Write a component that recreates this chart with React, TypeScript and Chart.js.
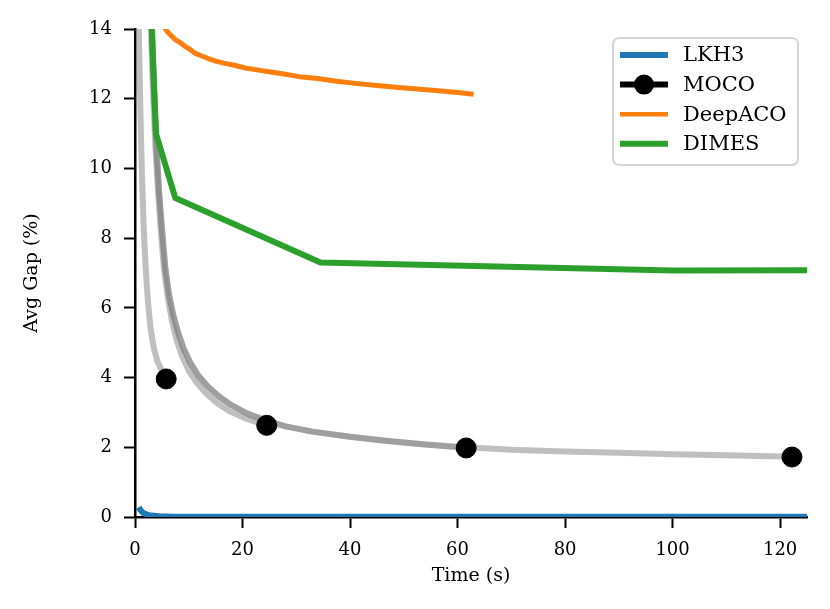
import React, { useEffect, useRef } from 'react';
import { Chart, registerables } from 'chart.js';

Chart.register(...registerables);

// series (time in s, gap in %)
const lkh3Time = [0.7, 1.0, 1.5, 2.2, 3.0, 4.5, 7, 20, 60, 125];
const lkh3Gap = [0.28, 0.2, 0.12, 0.07, 0.04, 0.02, 0.01, 0.01, 0.01, 0.01];

const mocoTime = [5.8, 24.5, 61.6, 122.2];
const mocoGap = [3.96, 2.63, 1.98, 1.72];

const deepacoTime = [5.3, 6.0, 6.8, 7.6, 8.5, 9.3, 10.2, 11.2, 12.2, 13.5, 15, 16.5, 18.5, 20.5, 23, 25.5, 28, 31, 34, 37.5, 41, 45, 49, 53, 57, 60, 63];
const deepacoGap = [14.1, 13.92, 13.8, 13.68, 13.6, 13.5, 13.42, 13.3, 13.24, 13.16, 13.08, 13.02, 12.96, 12.88, 12.82, 12.76, 12.7, 12.62, 12.58, 12.5, 12.44, 12.38, 12.32, 12.27, 12.22, 12.18, 12.13];

const dimesTime = [2.6, 3.9, 7.5, 34.5, 100, 125];
const dimesGap = [16, 11.0, 9.15, 7.3, 7.07, 7.08];

// MOCO search trajectories (grey, unlabeled), one per marker
const runATime = [0.6, 0.7, 0.9, 1.1, 1.35, 1.65, 2.0, 2.4, 2.9, 3.5, 4.2, 5.0, 5.8];
const runAGap = [16, 14, 12.5, 11, 9.5, 8.2, 7.1, 6.2, 5.4, 4.85, 4.45, 4.2, 3.96];

const runBTime = [2.9, 3.3, 3.8, 4.3, 4.8, 5.4, 6.1, 6.9, 7.8, 8.8, 10, 11.5, 13.2, 15.2, 17.6, 20.5, 24.5];
const runBGap = [14.3, 12.4, 10.6, 9.3, 8.2, 7.1, 6.3, 5.6, 5.05, 4.6, 4.2, 3.85, 3.55, 3.28, 3.03, 2.83, 2.63];

const runCTime = [3.1, 3.5, 4.0, 4.5, 5.0, 5.6, 6.3, 7.1, 8.0, 9.0, 10.3, 11.8, 13.5, 15.5, 18, 21, 24.5, 28, 33, 40, 47, 54, 61.6];
const runCGap = [14.3, 12.4, 10.6, 9.3, 8.3, 7.2, 6.4, 5.8, 5.3, 4.85, 4.42, 4.05, 3.75, 3.47, 3.2, 2.96, 2.76, 2.6, 2.45, 2.3, 2.18, 2.08, 1.98];

const runDTime = [3.1, 3.5, 4.0, 4.5, 5.0, 5.6, 6.3, 7.1, 8.0, 9.0, 10.3, 11.8, 13.5, 15.5, 18, 21, 24.5, 28, 33, 40, 47, 54, 61.6, 70, 80, 90, 100, 110, 122.2];
const runDGap = [14.3, 12.4, 10.6, 9.3, 8.3, 7.2, 6.4, 5.8, 5.3, 4.85, 4.42, 4.05, 3.75, 3.47, 3.2, 2.96, 2.76, 2.6, 2.45, 2.3, 2.18, 2.08, 2.0, 1.93, 1.88, 1.84, 1.8, 1.77, 1.73];

const seriesLabels = ['LKH3', 'MOCO', 'DeepACO', 'DIMES'];
const seriesColors = ['#1f77b4', '#000000', '#ff7f0e', '#2ca02c'];

const FONT = "'DejaVu Serif', serif";
const GREY = 'rgba(128,128,128,0.5)';

const pts = (xs: number[], ys: number[]) => xs.map((x, i) => ({ x, y: ys[i] }));

const legendBox = {
  id: 'legendBox',
  afterDraw(chart: any) {
    const { ctx, chartArea } = chart;
    const w = 185;
    const h = 127;
    const x = chartArea.right - w - 9;
    const y = chartArea.top + 9;
    ctx.save();
    ctx.beginPath();
    ctx.roundRect(x, y, w, h, 6);
    ctx.fillStyle = 'rgba(255,255,255,0.8)';
    ctx.fill();
    ctx.strokeStyle = '#d4d4d4';
    ctx.lineWidth = 2;
    ctx.stroke();

    ctx.font = `21px ${FONT}`;
    ctx.textBaseline = 'middle';
    ctx.textAlign = 'left';
    seriesLabels.forEach((label, i) => {
      const cy = y + 17 + i * 29.6;
      ctx.beginPath();
      ctx.moveTo(x + 7, cy);
      ctx.lineTo(x + 55, cy);
      ctx.strokeStyle = seriesColors[i];
      ctx.lineWidth = label === 'DeepACO' ? 4.5 : 6;
      ctx.stroke();
      if (label === 'MOCO') {
        ctx.beginPath();
        ctx.arc(x + 31, cy, 10, 0, Math.PI * 2);
        ctx.fillStyle = '#000';
        ctx.fill();
      }
      ctx.fillStyle = '#000';
      ctx.fillText(label, x + 70, cy + 1);
    });
    ctx.restore();
  },
};

const App: React.FC = () => {
  const canvasRef = useRef<HTMLCanvasElement | null>(null);

  useEffect(() => {
    if (!canvasRef.current) return;
    const ctx = canvasRef.current.getContext('2d');
    if (!ctx) return;

    const greyRun = (xs: number[], ys: number[]) => ({
      data: pts(xs, ys),
      borderColor: GREY,
      borderWidth: 6,
      pointRadius: 0,
      fill: false,
      order: 5,
    });

    const chart = new Chart(ctx, {
      type: 'line',
      data: {
        datasets: [
          {
            label: 'MOCO',
            data: pts(mocoTime, mocoGap),
            showLine: false,
            pointRadius: 10,
            pointBackgroundColor: '#000',
            pointBorderColor: '#000',
            pointBorderWidth: 1,
            order: 0,
          },
          {
            label: 'LKH3',
            data: pts(lkh3Time, lkh3Gap),
            borderColor: seriesColors[0],
            borderWidth: 6,
            pointRadius: 0,
            order: 1,
          },
          {
            label: 'DeepACO',
            data: pts(deepacoTime, deepacoGap),
            borderColor: seriesColors[2],
            borderWidth: 5,
            pointRadius: 0,
            order: 2,
          },
          {
            label: 'DIMES',
            data: pts(dimesTime, dimesGap),
            borderColor: seriesColors[3],
            borderWidth: 6,
            pointRadius: 0,
            order: 3,
          },
          greyRun(runATime, runAGap),
          greyRun(runBTime, runBGap),
          greyRun(runCTime, runCGap),
          greyRun(runDTime, runDGap),
        ] as any,
      },
      options: {
        animation: false,
        responsive: true,
        maintainAspectRatio: false,
        layout: { padding: { left: 0, right: 23, top: 29, bottom: 0 } },
        plugins: { legend: { display: false }, tooltip: { enabled: false } },
        elements: { line: { tension: 0, borderCapStyle: 'butt', borderJoinStyle: 'round' } },
        scales: {
          x: {
            type: 'linear',
            min: 0,
            max: 125,
            afterFit: (s: any) => { s.height = 92; },
            ticks: { stepSize: 20, includeBounds: false, padding: 12, color: '#000', font: { family: FONT, size: 18 } },
            grid: { drawOnChartArea: false, drawTicks: true, tickLength: 11, tickWidth: 2, tickColor: '#000' },
            border: { display: true, color: '#000', width: 2.5 },
            title: { display: true, text: 'Time (s)', color: '#000', font: { family: FONT, size: 19 }, padding: { top: 0, bottom: 22 } },
          },
          y: {
            type: 'linear',
            min: 0,
            max: 14,
            afterFit: (s: any) => { s.width = 135; },
            ticks: { stepSize: 2, padding: 12, color: '#000', font: { family: FONT, size: 18 } },
            grid: { drawOnChartArea: false, drawTicks: true, tickLength: 11, tickWidth: 2, tickColor: '#000' },
            border: { display: true, color: '#000', width: 2.5 },
            title: { display: true, text: 'Avg Gap (%)', color: '#000', font: { family: FONT, size: 19 }, padding: { top: 21, bottom: 0 } },
          },
        },
      },
      plugins: [legendBox],
    });

    return () => {
      chart.destroy();
    };
  }, []);

  return (
    <div style={{ position: 'fixed', left: 0, top: 0, width: 830, height: 609, background: '#fff' }}>
      <canvas ref={canvasRef} />
    </div>
  );
};

export default App;
